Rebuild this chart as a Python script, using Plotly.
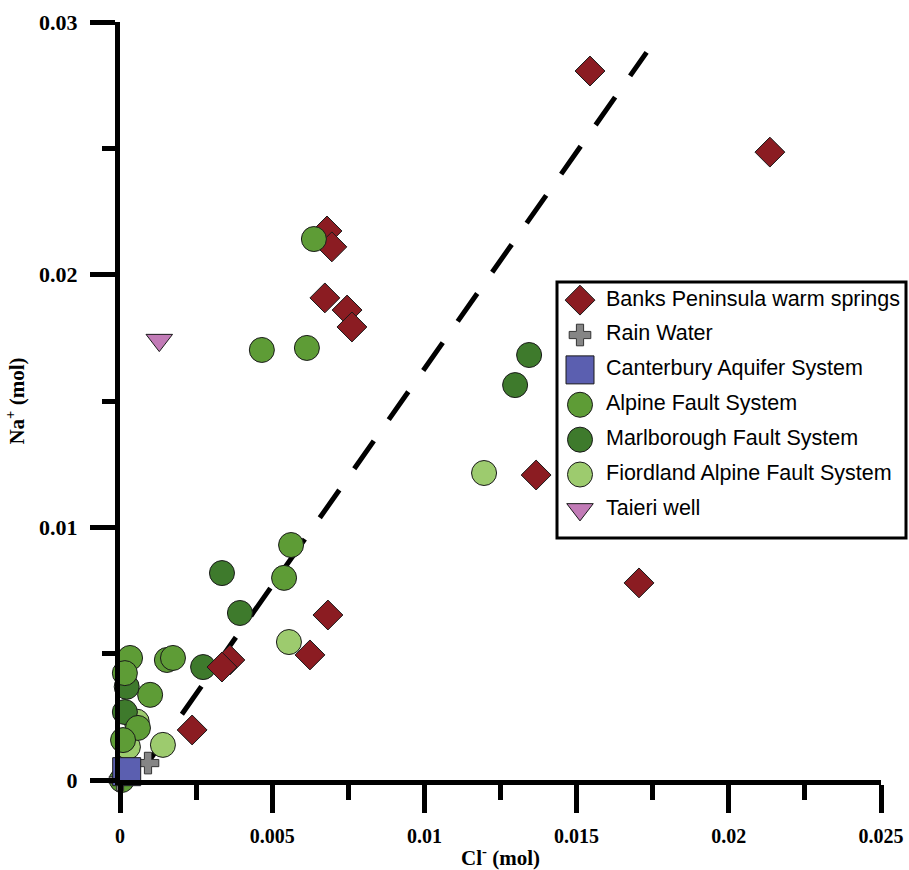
import plotly.graph_objects as go

# ---- data (Cl- mol, Na+ mol) ----
banks_x = [0.01544, 0.02135, 0.00680, 0.00696, 0.00673, 0.00746, 0.00762, 0.01367, 0.01705, 0.00683, 0.00624, 0.00361, 0.00335, 0.00237]
banks_y = [0.02806, 0.02485, 0.02173, 0.02110, 0.01908, 0.01860, 0.01793, 0.01207, 0.00780, 0.00653, 0.00495, 0.00475, 0.00447, 0.00198]

rain_x = [0.00092, 0.0]
rain_y = [0.00067, 0.0]

cant_x = [0.00022]
cant_y = [0.00033]

alpine_x = [0.00033, 0.00016, 0.00099, 0.00059, 0.00010, 0.00006, 0.00154, 0.00174, 0.00562, 0.00539, 0.00466, 0.00614, 0.00637]
alpine_y = [0.00483, 0.00423, 0.00337, 0.00206, 0.00158, 0.0, 0.00475, 0.00483, 0.00930, 0.00800, 0.01702, 0.01710, 0.02141]

marl_x = [0.00022, 0.00016, 0.00273, 0.00335, 0.00394, 0.01344, 0.01298]
marl_y = [0.00369, 0.00269, 0.00447, 0.00819, 0.00661, 0.01682, 0.01563]

fiord_x = [0.00055, 0.00026, 0.00141, 0.00555, 0.01196]
fiord_y = [0.00231, 0.00131, 0.00139, 0.00546, 0.01215]

taieri_x = [0.00129]
taieri_y = [0.01741]

trend_x = [0.0009, 0.0173]
trend_y = [0.00066, 0.0288]

x_ticks = [0, 0.005, 0.01, 0.015, 0.02, 0.025]
x_tick_labels = ["0", "0.005", "0.01", "0.015", "0.02", "0.025"]
y_ticks = [0, 0.01, 0.02, 0.03]
y_tick_labels = ["0", "0.01", "0.02", "0.03"]

names = ["Banks Peninsula warm springs", "Rain Water", "Canterbury Aquifer System",
         "Alpine Fault System", "Marlborough Fault System",
         "Fiordland Alpine Fault System", "Taieri well"]

# ---- styles ----
OUT = dict(color="#1a1a1a", width=1)
styles = {
    "Banks Peninsula warm springs": dict(symbol="diamond", size=23, color="#8B1C22", line=OUT),
    "Rain Water": dict(symbol="cross", size=18, color="#858585", line=dict(color="#333333", width=1)),
    "Canterbury Aquifer System": dict(symbol="square", size=28, color="#5B5FB0", line=OUT),
    "Alpine Fault System": dict(symbol="circle", size=25, color="#5E9C36", line=OUT),
    "Marlborough Fault System": dict(symbol="circle", size=25, color="#3E7A2C", line=OUT),
    "Fiordland Alpine Fault System": dict(symbol="circle", size=25, color="#9DCB6E", line=OUT),
    "Taieri well": dict(symbol="triangle-down", size=23, color="#C27BB7", line=OUT),
}

data = {
    "Banks Peninsula warm springs": (banks_x, banks_y),
    "Rain Water": (rain_x, rain_y),
    "Canterbury Aquifer System": (cant_x, cant_y),
    "Alpine Fault System": (alpine_x, alpine_y),
    "Marlborough Fault System": (marl_x, marl_y),
    "Fiordland Alpine Fault System": (fiord_x, fiord_y),
    "Taieri well": (taieri_x, taieri_y),
}

fig = go.Figure()

# dashed trend line
fig.add_trace(go.Scatter(x=trend_x, y=trend_y, mode="lines",
                         line=dict(color="black", width=5, dash="34px,26px"),
                         showlegend=False, hoverinfo="skip", cliponaxis=False))

draw_order = ["Fiordland Alpine Fault System", "Marlborough Fault System",
              "Banks Peninsula warm springs", "Alpine Fault System",
              "Rain Water", "Canterbury Aquifer System", "Taieri well"]
for n in draw_order:
    xs, ys = data[n]
    fig.add_trace(go.Scatter(x=xs, y=ys, mode="markers", name=n, marker=styles[n],
                             showlegend=False, cliponaxis=False))

# plot area pixel geometry
L, R, T, B = 120, 881, 22, 780
W, H = 909, 870
pw, ph = R - L, B - T
lx0, lx1, ly0, ly1 = 557, 906, 282, 538  # legend box pixels

def px2paper_x(p):
    return (p - L) / pw

def px2paper_y(p):
    return (B - p) / ph

# custom legend drawn on a secondary axis pair (units: pixels from legend left edge / row index)
rows = list(range(len(names)))
for i, n in zip(rows, names):
    fig.add_trace(go.Scatter(x=[23], y=[-i], mode="markers", marker=styles[n],
                             xaxis="x2", yaxis="y2", showlegend=False,
                             hoverinfo="skip", cliponaxis=False))
fig.add_trace(go.Scatter(x=[49] * len(names), y=[-i for i in rows], mode="text", text=names,
                         textposition="middle right",
                         textfont=dict(family="Liberation Sans, Arial", size=21.5, color="black"),
                         xaxis="x2", yaxis="y2", showlegend=False,
                         hoverinfo="skip", cliponaxis=False))

fig.update_layout(
    width=W, height=H,
    margin=dict(l=L, r=W - R, t=T, b=H - B, autoexpand=False),
    paper_bgcolor="white", plot_bgcolor="rgba(0,0,0,0)",
    showlegend=False,
    font=dict(family="Liberation Serif, Times New Roman", color="black"),
    xaxis=dict(
        range=[0, 0.025], tickvals=x_ticks, ticktext=x_tick_labels, automargin=False,
        showgrid=False, zeroline=False, showline=True, linecolor="black", linewidth=5,
        ticks="outside", ticklen=28, tickwidth=5, tickcolor="black",
        tickfont=dict(family="Liberation Serif", size=20, color="black", weight="bold"),
        ticklabelstandoff=6,
        minor=dict(dtick=0.0025, ticks="outside", ticklen=15, tickwidth=5, tickcolor="black", showgrid=False),
        title=dict(text="Cl<sup>-</sup> (mol)", standoff=8,
                   font=dict(family="Liberation Serif", size=21, color="black", weight="bold")),
    ),
    yaxis=dict(
        range=[0, 0.03], tickvals=y_ticks, ticktext=y_tick_labels, automargin=False,
        showgrid=False, zeroline=False, showline=True, linecolor="black", linewidth=5,
        ticks="outside", ticklen=25, tickwidth=5, tickcolor="black",
        tickfont=dict(family="Liberation Serif", size=22, color="black", weight="bold"),
        ticklabelstandoff=8,
        minor=dict(dtick=0.005, ticks="outside", ticklen=13, tickwidth=5, tickcolor="black", showgrid=False),
        title=dict(text="Na<sup>+</sup> (mol)", standoff=10,
                   font=dict(family="Liberation Serif", size=21, color="black", weight="bold")),
    ),
    xaxis2=dict(domain=[px2paper_x(lx0), 1.0], range=[0, R - lx0], anchor="y2",
                visible=False, fixedrange=True),
    yaxis2=dict(domain=[px2paper_y(ly1), px2paper_y(ly0)], range=[-6.82, 0.52], anchor="x2",
                visible=False, fixedrange=True),
)

fig.add_shape(type="rect", xref="paper", yref="paper",
              x0=px2paper_x(lx0), x1=px2paper_x(lx1), y0=px2paper_y(ly1), y1=px2paper_y(ly0),
              line=dict(color="black", width=3), fillcolor="white", layer="below")

fig.write_html("out.html")
